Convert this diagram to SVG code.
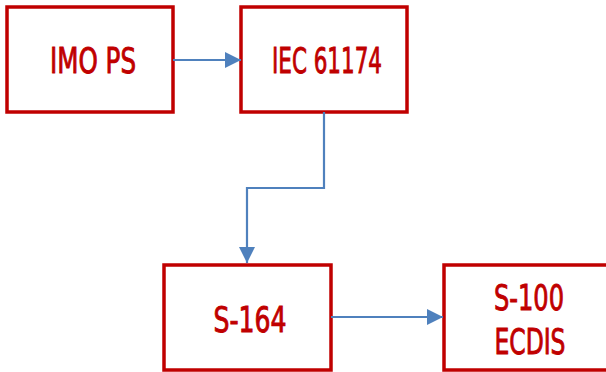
<svg xmlns="http://www.w3.org/2000/svg" width="606" height="372" viewBox="0 0 606 372">
<style>
.box{fill:#fff;stroke:#c00000;stroke-width:3.5}
.lbl{fill:#c00000;stroke:#c00000;stroke-width:0.9;font-family:"DejaVu Sans Condensed","Liberation Sans Narrow","Liberation Sans",sans-serif;font-size:36px;text-anchor:middle}
.con{fill:none;stroke:#4f81bd;stroke-width:2.2}
</style>
<defs>
<marker id="ah" viewBox="0 0 10 10" refX="10" refY="5" markerWidth="16" markerHeight="16" markerUnits="userSpaceOnUse" orient="auto">
<path d="M0,0 L10,5 L0,10 Z" fill="#4f81bd"/>
</marker>
</defs>
<g id="n1"><rect class="box" x="7" y="7" width="166" height="105"/><text class="lbl" x="93" y="73" textLength="86" lengthAdjust="spacingAndGlyphs">IMO PS</text></g>
<g id="n2"><rect class="box" x="241" y="7" width="166" height="105"/><text class="lbl" x="327" y="73" textLength="110" lengthAdjust="spacingAndGlyphs">IEC 61174</text></g>
<g id="n3"><rect class="box" x="164" y="265" width="167" height="105"/><text class="lbl" x="250" y="332" textLength="73" lengthAdjust="spacingAndGlyphs">S-164</text></g>
<g id="n4"><rect class="box" x="444" y="265" width="172" height="105"/><text class="lbl" x="529" y="310" textLength="70" lengthAdjust="spacingAndGlyphs">S-100</text><text class="lbl" x="530" y="354" textLength="71" lengthAdjust="spacingAndGlyphs">ECDIS</text></g>
<g id="connectors">
<path class="con" d="M173,60 H241" marker-end="url(#ah)"/>
<path class="con" d="M324,112 V188 H247 V263" marker-end="url(#ah)"/>
<path class="con" d="M331,317 H443" marker-end="url(#ah)"/>
</g>
</svg>
